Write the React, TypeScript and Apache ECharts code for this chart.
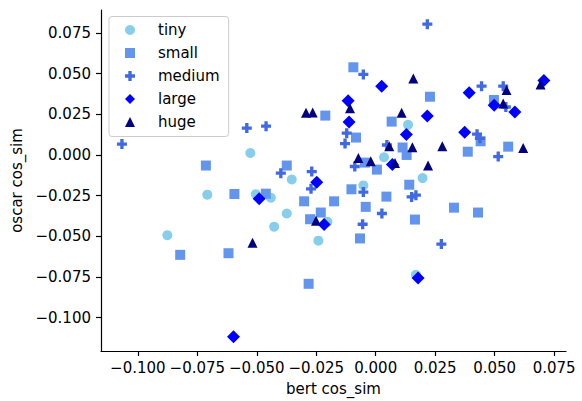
import React, { useEffect, useRef } from "react";
import * as echarts from "echarts";

const seriesNames = ["tiny", "small", "medium", "large", "huge"];
const seriesColors = ["#87ceeb", "#6495ed", "#4169e1", "#0000ff", "#000080"];

const xTicks = [-0.1, -0.075, -0.05, -0.025, 0, 0.025, 0.05, 0.075];
const yTicks = [-0.1, -0.075, -0.05, -0.025, 0, 0.025, 0.05, 0.075];

const tinyBert = [-0.0876, -0.0708, -0.0527, -0.0504, -0.0441, -0.0353, -0.0374, -0.0427, -0.0241, -0.0203, -0.0052, 0.0035, 0.0136, 0.0197, 0.0169];
const tinyOscar = [-0.0493, -0.0244, 0.0012, -0.0241, -0.0263, -0.0151, -0.036, -0.0441, -0.0527, -0.0411, -0.0187, -0.0014, 0.0185, -0.0142, -0.0737];

const smallBert = [-0.0714, -0.0594, -0.0822, -0.0619, -0.0282, -0.0094, -0.0212, 0.0067, -0.0083, 0.0228, 0.0497, 0.0113, 0.013, 0.0441, 0.0387, 0.0557, 0.0141, 0.0329, 0.043, 0.0165, -0.0374, -0.0462, -0.0301, -0.0175, -0.0231, -0.0276, -0.0102, -0.0042, -0.0066, 0.0045, 0.0005, -0.0045];
const smallOscar = [-0.0065, -0.024, -0.0614, -0.0604, -0.0792, 0.0539, 0.0242, 0.0205, 0.0107, 0.0358, 0.0338, 0.0046, 0.0, 0.0084, 0.002, 0.0051, -0.0183, -0.0324, -0.0354, -0.0397, -0.0065, -0.0238, -0.0285, -0.0285, -0.0354, -0.0395, -0.0211, -0.0319, -0.0513, -0.0256, -0.009, -0.0047];

const mediumBert = [-0.1067, -0.0542, -0.0461, 0.0217, 0.0445, 0.0536, 0.0547, 0.0426, 0.0438, -0.0052, -0.0122, -0.0129, -0.0399, -0.0269, -0.0272, -0.0088, -0.0052, 0.0026, -0.0055, 0.0047, 0.0515, 0.0151, 0.0169, 0.0276];
const mediumOscar = [0.0067, 0.0165, 0.0177, 0.0804, 0.0423, 0.0423, 0.0295, 0.0128, 0.0102, 0.0495, 0.0134, 0.007, -0.0112, -0.0102, -0.0208, -0.0071, -0.0228, -0.036, -0.0426, 0.0061, -0.001, -0.0258, -0.0247, -0.0548];

const largeBert = [-0.0598, 0.0178, 0.0025, -0.0116, -0.0112, 0.0129, 0.0707, 0.0393, 0.0217, 0.0498, 0.0585, 0.0374, -0.049, -0.0248, -0.0217, 0.007];
const largeOscar = [-0.1117, -0.0757, 0.0423, 0.0333, 0.0203, 0.0126, 0.0458, 0.0383, 0.024, 0.0305, 0.0264, 0.0139, -0.0269, -0.0167, -0.0427, -0.0059];

const hugeBert = [-0.0518, -0.0293, -0.0265, -0.0108, 0.0109, 0.0158, 0.055, 0.0536, 0.0693, 0.0154, 0.028, 0.022, 0.062, -0.0251, -0.0073, -0.0021, 0.0057, 0.0081];
const hugeOscar = [-0.0539, 0.0259, 0.0261, 0.0287, 0.0259, 0.047, 0.0399, 0.0316, 0.0433, 0.0047, 0.0053, -0.0065, 0.0043, -0.0405, -0.0018, -0.0038, 0.0053, -0.0049];

const plusPath = "path://M-1,-3L1,-3L1,-1L3,-1L3,1L1,1L1,3L-1,3L-1,1L-3,1L-3,-1L-1,-1Z";
const symbols = ["circle", "rect", plusPath, "diamond", "triangle"];
const symbolSizes = [10, 10, 10, 13, 10];
const xsList = [tinyBert, smallBert, mediumBert, largeBert, hugeBert];
const ysList = [tinyOscar, smallOscar, mediumOscar, largeOscar, hugeOscar];

const FONT = "DejaVu Sans";
const fmt = (v: number) => (v < 0 ? "\u2212" : "") + Math.abs(v).toFixed(3);

export default function App() {
  const ref = useRef<HTMLDivElement>(null);
  useEffect(() => {
    if (!ref.current) return;
    const chart = echarts.init(ref.current, undefined, { renderer: "svg" });
    const axisCommon = {
      type: "value" as const,
      splitLine: { show: false },
      axisLine: { show: true, onZero: false, lineStyle: { color: "#000", width: 1.2 } },
      axisTick: { show: true, inside: false, length: 5, lineStyle: { color: "#000", width: 1.2 } },
      nameLocation: "middle" as const,
      nameTextStyle: { fontSize: 15, color: "#000", fontFamily: FONT },
    };
    chart.setOption({
      animation: false,
      backgroundColor: "#fff",
      textStyle: { fontFamily: FONT },
      grid: { left: 101, right: 16, top: 10, bottom: 48, containLabel: false },
      xAxis: {
        ...axisCommon,
        min: -0.1155,
        max: 0.08,
        name: "bert cos_sim",
        nameGap: 30,
        axisTick: { ...axisCommon.axisTick, customValues: xTicks },
        axisLabel: { customValues: xTicks, formatter: fmt, fontSize: 15, color: "#000", margin: 9, fontFamily: FONT },
      },
      yAxis: {
        ...axisCommon,
        min: -0.1205,
        max: 0.0891,
        name: "oscar cos_sim",
        nameGap: 67,
        nameRotate: 90,
        axisTick: { ...axisCommon.axisTick, customValues: yTicks },
        axisLabel: { customValues: yTicks, formatter: fmt, fontSize: 15, color: "#000", margin: 10, fontFamily: FONT },
      },
      legend: {
        orient: "vertical",
        left: 109,
        top: 16.5,
        itemWidth: 10,
        itemHeight: 10,
        itemGap: 8,
        padding: [6, 9, 7, 16],
        backgroundColor: "rgba(255,255,255,0.8)",
        borderColor: "#cccccc",
        borderWidth: 1,
        borderRadius: 3,
        textStyle: { fontSize: 15, color: "#000", fontFamily: FONT, padding: [0, 0, 0, 18], lineHeight: 15 },
        data: seriesNames,
      },
      series: seriesNames.map((name, i) => ({
        name,
        type: "scatter",
        symbol: symbols[i],
        symbolSize: symbolSizes[i],
        itemStyle: { color: seriesColors[i], opacity: 1 },
        emphasis: { disabled: true },
        data: xsList[i].map((x, j) => [x, ysList[i][j]]),
      })),
    });
    return () => chart.dispose();
  }, []);
  return <div ref={ref} style={{ position: "fixed", left: 0, top: 0, width: 582, height: 401 }} />;
}
